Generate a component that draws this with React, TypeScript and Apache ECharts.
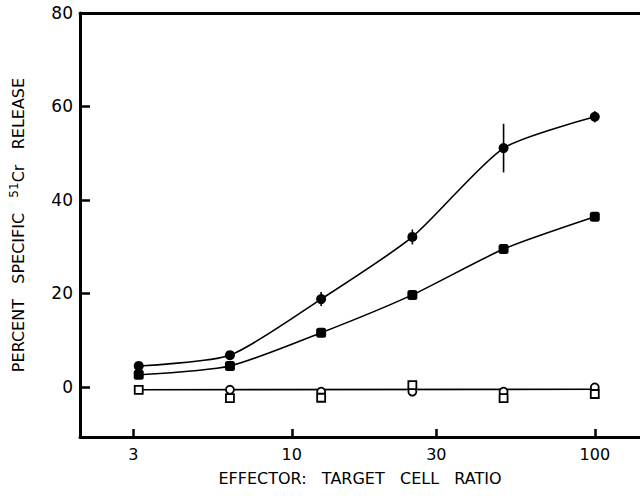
import React, { useEffect, useRef } from "react";
import * as echarts from "echarts";

const ratios = [3.125, 6.25, 12.5, 25, 50, 100];
const upperFilled = [4.5, 6.8, 18.8, 32.1, 51.1, 57.8];
const upperErr = [0.9, 0.8, 1.5, 1.6, 5.2, 1.2];
const lowerFilled = [2.6, 4.5, 11.6, 19.7, 29.5, 36.4];
const openCircleRatios = [6.25, 12.5, 25, 50, 100];
const openCircles = [-0.6, -1.0, -1.0, -1.0, -0.1];
const openSquares = [-0.6, -2.4, -2.3, 0.4, -2.4, -1.5];
const baselineRatios = [3.125, 100];
const baselineFit = [-0.6, -0.5];
const xTicks = [3, 10, 30, 100];
const yTicks = [0, 20, 40, 60, 80];

const FONT = "DejaVu Sans";

export default function App() {
  const ref = useRef<HTMLDivElement>(null);
  useEffect(() => {
    if (!ref.current) return;
    const chart = echarts.init(ref.current, undefined, { renderer: "svg" });
    const pair = (xs: number[], ys: number[]) => xs.map((x, i) => [x, ys[i]]);
    chart.setOption({
      animation: false,
      backgroundColor: "#ffffff",
      grid: { left: 79, right: 0, top: 13, bottom: 59, containLabel: false },
      xAxis: [
        {
          type: "log",
          logBase: 10,
          min: 2,
          max: 141,
          position: "bottom",
          name: "EFFECTOR:   TARGET   CELL   RATIO",
          nameLocation: "middle",
          nameGap: 33,
          nameTextStyle: { fontFamily: FONT, fontSize: 16, color: "#000", verticalAlign: "top" },
          axisLine: { show: true, onZero: false, lineStyle: { color: "#000", width: 3 } },
          axisTick: { show: true, inside: true, length: 8, customValues: xTicks, lineStyle: { color: "#000", width: 2.5 } },
          axisLabel: { show: true, customValues: xTicks, margin: 9, fontFamily: FONT, fontSize: 16, color: "#000" },
          splitLine: { show: false },
          minorTick: { show: false },
        },
        {
          type: "log",
          logBase: 10,
          min: 2,
          max: 141,
          position: "top",
          axisLine: { show: true, onZero: false, lineStyle: { color: "#000", width: 3 } },
          axisTick: { show: false },
          axisLabel: { show: false },
          splitLine: { show: false },
        },
      ],
      yAxis: {
        type: "value",
        min: -10.7,
        max: 80,
        name: "PERCENT   SPECIFIC   {sup|51}Cr   RELEASE",
        nameLocation: "middle",
        nameRotate: 90,
        nameGap: 52,
        nameTextStyle: {
          fontFamily: FONT,
          fontSize: 16,
          color: "#000",
          rich: { sup: { fontFamily: FONT, fontSize: 12, color: "#000", verticalAlign: "bottom", padding: [0, 0, 8, 0] } },
        },
        axisLine: { show: true, onZero: false, lineStyle: { color: "#000", width: 3 } },
        axisTick: { show: true, inside: true, length: 10, customValues: yTicks, lineStyle: { color: "#000", width: 2.5 } },
        axisLabel: { show: true, customValues: yTicks, margin: 7, fontFamily: FONT, fontSize: 17, color: "#000" },
        splitLine: { show: false },
      },
      series: [
        {
          type: "custom",
          xAxisIndex: 0,
          data: ratios.map((x, i) => [x, upperFilled[i] - upperErr[i], upperFilled[i] + upperErr[i]]),
          renderItem: (params: any, api: any) => {
            const lo = api.coord([api.value(0), api.value(1)]);
            const hi = api.coord([api.value(0), api.value(2)]);
            return {
              type: "line",
              shape: { x1: lo[0], y1: lo[1], x2: hi[0], y2: hi[1] },
              style: { stroke: "#000", lineWidth: 1.6 },
            };
          },
          z: 3,
        },
        {
          type: "line",
          data: pair(ratios, upperFilled),
          smooth: 0.22,
          symbol: "circle",
          symbolSize: 10,
          itemStyle: { color: "#000" },
          lineStyle: { color: "#000", width: 1.6 },
          z: 4,
        },
        {
          type: "line",
          data: pair(ratios, lowerFilled),
          smooth: 0.22,
          symbol: "roundRect",
          symbolSize: 10,
          itemStyle: { color: "#000" },
          lineStyle: { color: "#000", width: 1.6 },
          z: 4,
        },
        {
          type: "line",
          data: pair(baselineRatios, baselineFit),
          symbol: "none",
          lineStyle: { color: "#000", width: 1.6 },
          z: 2,
        },
        {
          type: "scatter",
          data: pair(openCircleRatios, openCircles),
          symbol: "circle",
          symbolSize: 8,
          itemStyle: { color: "#fff", borderColor: "#000", borderWidth: 1.8, opacity: 1 },
          z: 5,
        },
        {
          type: "scatter",
          data: pair(ratios, openSquares),
          symbol: "rect",
          symbolSize: 8,
          itemStyle: { color: "#fff", borderColor: "#000", borderWidth: 1.8, opacity: 1 },
          z: 5,
        },
      ],
    });
    return () => chart.dispose();
  }, []);
  return <div ref={ref} style={{ position: "fixed", left: 0, top: 0, width: 640, height: 496 }} />;
}
